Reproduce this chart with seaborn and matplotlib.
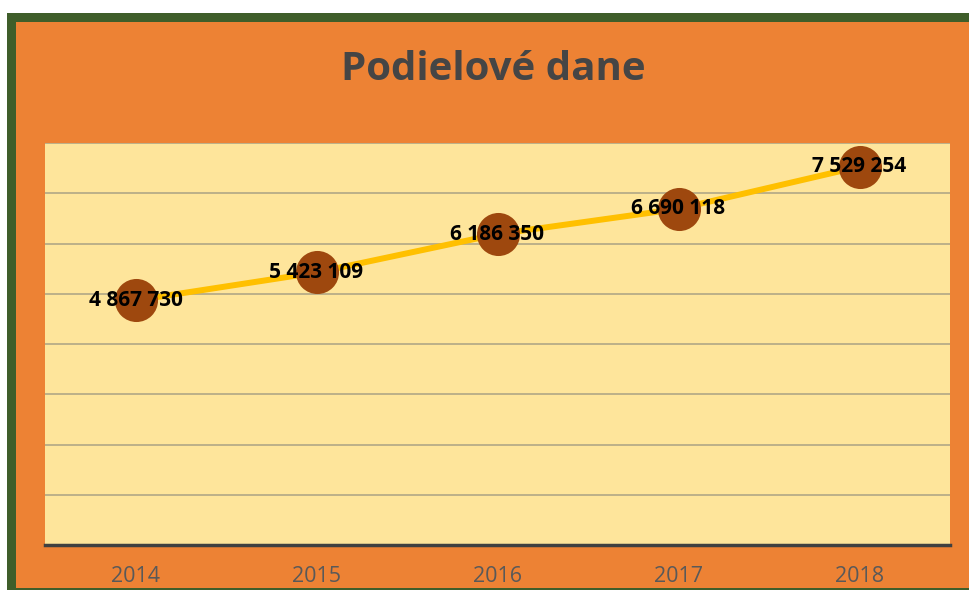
import matplotlib
matplotlib.use("Agg")
import matplotlib.pyplot as plt
import seaborn as sns
import pandas as pd
from matplotlib.patches import Rectangle

# data
years = ["2014", "2015", "2016", "2017", "2018"]
dane = [4867730, 5423109, 6186350, 6690118, 7529254]
y_ticks = [0, 1000000, 2000000, 3000000, 4000000, 5000000, 6000000, 7000000, 8000000]

df = pd.DataFrame({"rok": years, "dane": dane})

sns.set_style("white")
plt.rcParams["font.family"] = ["Open Sans", "DejaVu Sans"]

fig = plt.figure(figsize=(9.69, 5.90), dpi=100, facecolor="white")

# green frame + orange chart area
fig.patches.append(Rectangle((7 / 969, 0), 1, 1 - 13 / 590, transform=fig.transFigure,
                             facecolor="#3f5e2a", edgecolor="none", zorder=-2))
fig.patches.append(Rectangle((16 / 969, 2 / 590), 1, (588 - 22) / 590, transform=fig.transFigure,
                             facecolor="#ed8234", edgecolor="none", zorder=-1))

ax = fig.add_axes([45 / 969, 45 / 590, 905 / 969, 402 / 590])
ax.set_facecolor("#fee59b")

sns.lineplot(data=df, x="rok", y="dane", ax=ax, color="#ffc000", linewidth=4.3,
             marker="o", markersize=31, markerfacecolor="#9e480e", markeredgewidth=0,
             zorder=3)

for i, v in enumerate(dane):
    ax.text(i, v, f"{v:,}".replace(",", " "), ha="center", va="center",
            fontsize=15, fontweight="bold", color="black", zorder=5)

ax.set_xlim(-0.5, 4.5)
ax.set_ylim(0, 8000000)
ax.set_yticks(y_ticks)
ax.set_yticklabels([])
ax.yaxis.grid(True, color="#bcb089", linewidth=1.4)
ax.xaxis.grid(False)
ax.set_axisbelow(True)
ax.set_xlabel("")
ax.set_ylabel("")
ax.tick_params(axis="both", length=0)
ax.tick_params(axis="x", labelsize=15.5, labelcolor="#595959", pad=15)
for s in ["top", "left", "right"]:
    ax.spines[s].set_visible(False)
ax.spines["bottom"].set_color("#404040")
ax.spines["bottom"].set_linewidth(2.5)

fig.text(493 / 969, 1 - 70 / 590, "Podielové dane", ha="center", va="center",
         fontsize=29, fontweight="bold", color="#454545")

fig.savefig("out.png", dpi=100, facecolor=fig.get_facecolor())
